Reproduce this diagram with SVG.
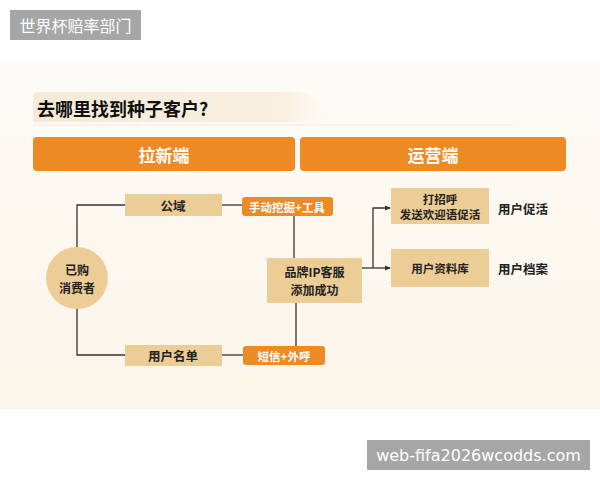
<svg xmlns="http://www.w3.org/2000/svg" width="600" height="480" viewBox="0 0 600 480">
<defs>
<style>
.t{font-family:"Noto Sans CJK SC","Noto Sans",sans-serif;font-weight:700;fill:#222;text-anchor:middle;dominant-baseline:central}
.w{font-family:"Noto Sans CJK SC","Noto Sans",sans-serif;fill:#fff;text-anchor:middle;dominant-baseline:central}
.tan{fill:#eccd95}
.org{fill:#ec8a25}
.ln{stroke:#333;stroke-width:1.3;fill:none}
</style>
<linearGradient id="tg" x1="0" y1="0" x2="1" y2="0">
<stop offset="0" stop-color="#f5ead7"/>
<stop offset="0.85" stop-color="#f8efe0"/>
<stop offset="1" stop-color="#fbf6ec" stop-opacity="0"/>
</linearGradient>
<linearGradient id="bg" x1="0" y1="0" x2="0" y2="1">
<stop offset="0" stop-color="#fdfbf7"/>
<stop offset="1" stop-color="#fbf5e9"/>
</linearGradient>
<marker id="ar" markerWidth="6" markerHeight="6" refX="5" refY="3" orient="auto" markerUnits="userSpaceOnUse">
<path d="M0,0.5 L6,3 L0,5.5 Z" fill="#333"/>
</marker>
</defs>
<rect width="600" height="480" fill="#fff"/>
<rect x="0" y="60" width="600" height="349" fill="url(#bg)"/>
<path d="M38,92 H300 Q310,92 318,102 L330,122 H33 V97 Q33,92 38,92 Z" fill="url(#tg)"/>
<text x="37" y="108" class="t" style="text-anchor:start;font-size:18px;fill:#111">去哪里找到种子客户?</text>
<line x1="33" y1="125" x2="513" y2="125" stroke="#f1ebe0" stroke-width="1"/>

<g id="hdr-left"><rect x="33" y="137" width="262" height="34" rx="4" class="org"/><text x="164" y="154" class="w" style="font-size:17px;font-weight:700">拉新端</text></g>
<g id="hdr-right"><rect x="300" y="137" width="266" height="34" rx="4" class="org"/><text x="433" y="154" class="w" style="font-size:17px;font-weight:700">运营端</text></g>

<g id="connectors">
<polyline class="ln" points="77,248 77,205 125,205"/>
<polyline class="ln" points="77,309 77,355 125,355"/>
<line class="ln" x1="222" y1="205" x2="242" y2="205"/>
<line class="ln" x1="222" y1="355" x2="243" y2="355"/>
<line class="ln" x1="294" y1="216" x2="294" y2="258"/>
<line class="ln" x1="296" y1="303" x2="296" y2="346"/>
<line class="ln" x1="362" y1="268" x2="390" y2="268" marker-end="url(#ar)"/>
<polyline class="ln" points="373,268 373,208 390,208" marker-end="url(#ar)"/>
</g>

<g id="buyer"><circle cx="77" cy="278" r="31" fill="#eccd95"/><text x="77" y="269" class="t" style="font-size:12px">已购</text><text x="77" y="287.5" class="t" style="font-size:12px">消费者</text></g>
<g id="gongyu"><rect x="125" y="194" width="97" height="22" class="tan"/><text x="173" y="205" class="t" style="font-size:12.5px">公域</text></g>
<g id="manual"><rect x="242" y="197" width="91" height="19" rx="3" class="org"/><text x="287" y="206.5" class="w" style="font-size:11.5px;font-weight:700">手动挖掘+工具</text></g>
<g id="userlist"><rect x="125" y="345" width="97" height="21" class="tan"/><text x="173" y="355.5" class="t" style="font-size:12.5px">用户名单</text></g>
<g id="sms"><rect x="243" y="346" width="82" height="19" rx="3" class="org"/><text x="284" y="355.5" class="w" style="font-size:11.5px;font-weight:700">短信+外呼</text></g>
<g id="brand"><rect x="267" y="258" width="95" height="45" class="tan"/><text x="314.5" y="271" class="t" style="font-size:12px">品牌IP客服</text><text x="314.5" y="289.5" class="t" style="font-size:12px">添加成功</text></g>
<g id="greet"><rect x="391" y="188" width="98" height="36" class="tan"/><text x="440" y="198.5" class="t" style="font-size:11.5px">打招呼</text><text x="440" y="214" class="t" style="font-size:11.5px">发送欢迎语促活</text></g>
<g id="userdb"><rect x="391" y="249" width="98" height="38" class="tan"/><text x="440" y="268" class="t" style="font-size:11.5px">用户资料库</text></g>
<g id="lbl-active"><text x="498" y="208" class="t" style="font-size:12.5px;text-anchor:start">用户促活</text></g>
<g id="lbl-archive"><text x="498" y="268" class="t" style="font-size:12.5px;text-anchor:start">用户档案</text></g>

<g id="wm1"><rect x="10" y="10" width="131" height="30" fill="#a6a6a6"/><text x="75.5" y="25" class="w" style="font-size:16px">世界杯赔率部门</text></g>
<g id="wm2"><rect x="367" y="440" width="223" height="30" fill="#a6a6a6"/><text x="478.5" y="455" class="w" style="font-size:16px;font-family:'DejaVu Sans',sans-serif">web-fifa2026wcodds.com</text></g>
</svg>
